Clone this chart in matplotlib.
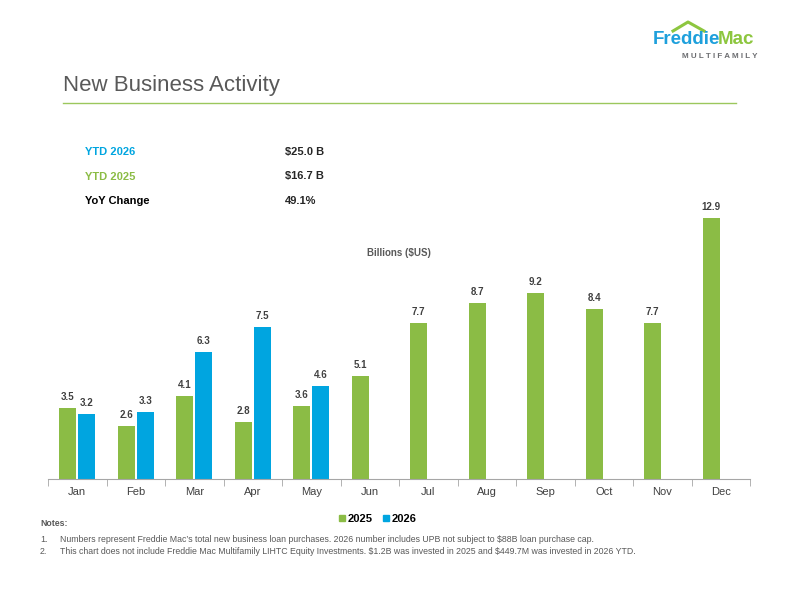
import numpy as np
import matplotlib.pyplot as plt
from matplotlib.patches import Patch

plt.rcParams['font.family'] = ['Liberation Sans', 'DejaVu Sans']

months = ['Jan', 'Feb', 'Mar', 'Apr', 'May', 'Jun', 'Jul', 'Aug', 'Sep', 'Oct', 'Nov', 'Dec']
vals_2025 = [3.5, 2.6, 4.1, 2.8, 3.6, 5.1, 7.7, 8.7, 9.2, 8.4, 7.7, 12.9]
vals_2026 = [3.2, 3.3, 6.3, 7.5, 4.6]

summary_labels = ['YTD 2026', 'YTD 2025', 'YoY Change']
summary_values = ['\\$25.0 B', '\\$16.7 B', '49.1%']

green = '#8BBC45'
blue = '#00A5E0'
gray = '#595959'
label_gray = '#404040'

fig = plt.figure(figsize=(8, 6), dpi=100)
ax = fig.add_axes([0.06, 0.2017, 0.8775, 0.4717])

x = np.arange(len(months))
w = 0.29
off = 0.165
ax.bar(x - off, vals_2025, width=w, color=green, label='2025')
ax.bar(x[:len(vals_2026)] + off, vals_2026, width=w, color=blue, label='2026')

for i, v in enumerate(vals_2025):
    ax.text(x[i] - off, v + 0.3, f'{v:.1f}', ha='center', va='bottom',
            fontsize=7, fontweight='bold', color=label_gray)
for i, v in enumerate(vals_2026):
    ax.text(x[i] + off, v + 0.3, f'{v:.1f}', ha='center', va='bottom',
            fontsize=7, fontweight='bold', color=label_gray)

ax.set_xlim(-0.5, len(months) - 0.5)
ax.set_ylim(0, 14)
ax.set_yticks([])
for s in ['top', 'right', 'left']:
    ax.spines[s].set_visible(False)
ax.spines['bottom'].set_color('#A6A6A6')
ax.set_xticks(x)
ax.set_xticklabels(months, fontsize=8, color=label_gray)
ax.tick_params(axis='x', which='major', length=0, pad=6)
ax.set_xticks(np.arange(-0.5, len(months)), minor=True)
ax.tick_params(axis='x', which='minor', length=5, color='#A6A6A6')

ax.text(0.5, 0.80, 'Billions (\\$US)', transform=ax.transAxes, ha='center', va='center',
        fontsize=7, fontweight='bold', color=gray)

fig.legend(handles=[Patch(color=green, label='2025'), Patch(color=blue, label='2026')],
           loc='center', bbox_to_anchor=(378 / 800, 1 - 519 / 600),
           ncol=2, frameon=False, handlelength=0.55, handleheight=0.55,
           handletextpad=0.25, columnspacing=0.9, prop={'weight': 'bold', 'size': 8})

# header
fig.text(0.079, 1 - 85 / 600, 'New Business Activity', fontsize=16, color=gray, va='center')
fig.add_artist(plt.Line2D([63 / 800, 736 / 800], [1 - 103 / 600] * 2, color='#9CC75C', lw=1))

# logo
fig.text(720 / 800, 1 - 40 / 600, 'Freddie', fontsize=13.5, fontweight='bold', color='#1EA0DC',
         va='center', ha='right')
fig.text(718 / 800, 1 - 40 / 600, 'Mac', fontsize=13.5, fontweight='bold', color='#8DC63F',
         va='center', ha='left')
fig.text(758 / 800, 1 - 57 / 600, 'M U L T I F A M I L Y', fontsize=5.8, fontweight='bold',
         color='#6D6E71', va='center', ha='right')
fig.add_artist(plt.Line2D([673 / 800, 688 / 800, 704 / 800],
                          [1 - 31 / 600, 1 - 22 / 600, 1 - 31 / 600], color='#8DC63F', lw=2.2))

# summary table
colors = [blue, green, '#000000']
for i, (lab, val) in enumerate(zip(summary_labels, summary_values)):
    y = 1 - (152 + i * 24.5) / 600
    fig.text(85 / 800, y, lab, fontsize=8, fontweight='bold', color=colors[i], va='center')
    fig.text(285 / 800, y, val, fontsize=8, fontweight='bold', color='#262626', va='center')

# notes
fig.text(40 / 800, 1 - 524 / 600, 'Notes:', fontsize=6.3, fontweight='bold', color=gray, va='center')
notes = [
    'Numbers represent Freddie Mac\u2019s total new business loan purchases. 2026 number includes UPB not subject to \\$88B loan purchase cap.',
    'This chart does not include Freddie Mac Multifamily LIHTC Equity Investments. \\$1.2B was invested in 2025 and \\$449.7M was invested in 2026 YTD.',
]
for i, n in enumerate(notes):
    y = 1 - (539 + i * 12) / 600
    fig.text(40 / 800, y, f'{i + 1}.', fontsize=6.3, color=gray, va='center')
    fig.text(60 / 800, y, n, fontsize=6.3, color=gray, va='center')

fig.savefig('out.png', dpi=100)
